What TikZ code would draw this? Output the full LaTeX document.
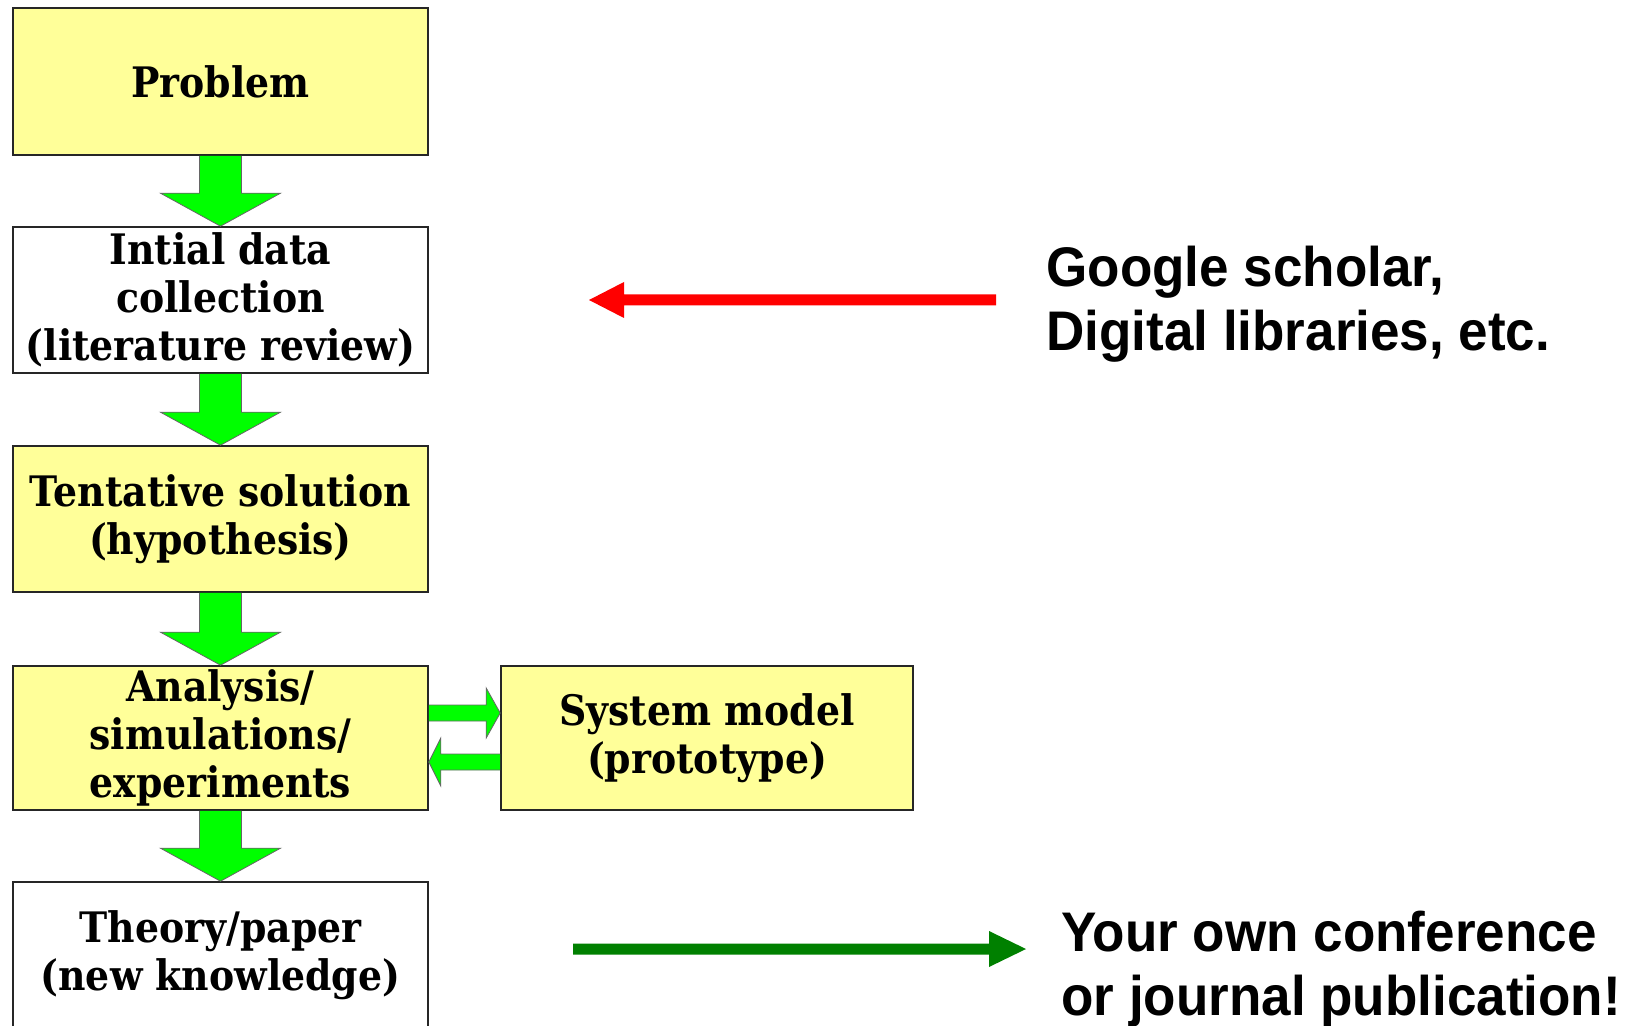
\documentclass[tikz,border=0pt]{standalone}
\usepackage{fontspec}
\usetikzlibrary{calc}
\newfontfamily\boxfont{DejaVu Serif}[FakeStretch=0.9]
\newfontfamily\notefont{Liberation Sans}[FakeStretch=0.95]
\definecolor{boxyellow}{HTML}{FFFF99}
\definecolor{flowgreen}{HTML}{00FF00}
\definecolor{notered}{HTML}{FF0000}
\definecolor{notegreen}{HTML}{008000}

% vertical block arrow from the bottom of #1 to the top of #2
\newcommand\flowdown[2]{%
  \draw[blockarrow] ($(#1.south)+(-21,0)$) -- ($(#2.north)+(-21,-33)$)
    -- ($(#2.north)+(-60,-33)$) -- (#2.north) -- ($(#2.north)+(60,-33)$)
    -- ($(#2.north)+(21,-33)$) -- ($(#1.south)+(21,0)$);}

\tikzset{
  stage/.style={draw=black!85, line width=0.8pt, minimum width=207.5pt,
    minimum height=73pt, inner sep=0pt, align=center,
    font=\boxfont\bfseries\fontsize{21}{24}\selectfont},
  stageyellow/.style={stage, fill=boxyellow},
  stagewhite/.style={stage, fill=white},
  blockarrow/.style={fill=flowgreen, draw=black!60, line width=0.4pt, line join=miter},
  note/.style={font=\notefont\bfseries\fontsize{27.9}{32}\selectfont,
    align=left, inner sep=0pt, anchor=north west}
}

\begin{document}
\begin{tikzpicture}[x=0.5pt,y=-0.5pt]
\clip (0,0) rectangle (1636,1026);
\fill[white] (0,0) rectangle (1636,1026);

% process stages
\node[stageyellow, minimum height=73.5pt] (prob) at (220.5,81.5) {Problem};
\node[stagewhite] (lit) at (220.5,300) {Intial data\\collection\\(literature review)};
\node[stageyellow] (hyp) at (220.5,519) {Tentative solution\\(hypothesis)};
\node[stageyellow, minimum height=72pt] (ana) at (220.5,738) {Analysis/\\simulations/\\experiments};
\node[stageyellow, minimum width=206pt, minimum height=72pt] (sys) at (707,738) {System model\\(prototype)};
\node[stagewhite] (thy) at (220.5,955) {Theory/paper\\(new knowledge)};

% flow between stages
\flowdown{prob}{lit}
\flowdown{lit}{hyp}
\flowdown{hyp}{ana}
\flowdown{ana}{thy}

% exchange with the system model
\draw[blockarrow] ($(ana.east)+(0,-33)$) -- ($(sys.west)+(-14,-33)$)
  -- ($(sys.west)+(-14,-50)$) -- ($(sys.west)+(0,-25)$) -- ($(sys.west)+(-14,0)$)
  -- ($(sys.west)+(-14,-17)$) -- ($(ana.east)+(0,-17)$);
\draw[blockarrow] ($(sys.west)+(0,16)$) -- ($(ana.east)+(12,16)$)
  -- ($(ana.east)+(12,0)$) -- ($(ana.east)+(0,24)$) -- ($(ana.east)+(12,48)$)
  -- ($(ana.east)+(12,32)$) -- ($(sys.west)+(0,32)$);

% side notes
\node[note] (src) at (1046,246) {Google scholar,\\Digital libraries, etc.};
\node[note] (pub) at (1061,911) {Your own conference\\or journal publication!};

\coordinate (srcend) at (996,300);
\coordinate (litside) at (589,300);
\fill[notered] ($(srcend)+(0,-5.5)$) -- ($(litside)+(35,-5.5)$) -- ($(litside)+(35,-18)$)
  -- (litside) -- ($(litside)+(35,18)$) -- ($(litside)+(35,5.5)$) -- ($(srcend)+(0,5.5)$) -- cycle;

\coordinate (thyside) at (573,949);
\coordinate (pubend) at (1026,949);
\fill[notegreen] ($(thyside)+(0,-5.5)$) -- ($(pubend)+(-37,-5.5)$) -- ($(pubend)+(-37,-18)$)
  -- (pubend) -- ($(pubend)+(-37,18)$) -- ($(pubend)+(-37,5.5)$) -- ($(thyside)+(0,5.5)$) -- cycle;
\end{tikzpicture}
\end{document}
